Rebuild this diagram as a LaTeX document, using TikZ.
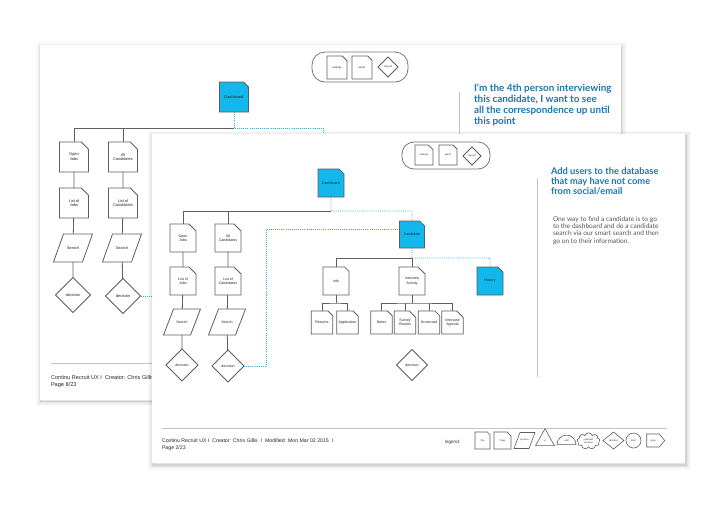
\documentclass[tikz,border=0pt]{standalone}
\usepackage{fontspec}
\setmainfont{Liberation Sans}
\newfontfamily\headf{Lato}
\usetikzlibrary{shapes.geometric,shapes.misc,shapes.symbols}
\definecolor{edge}{RGB}{95,95,95}
\definecolor{nodeblue}{RGB}{18,183,236}
\definecolor{dotblue}{RGB}{45,175,230}
\definecolor{headblue}{RGB}{28,118,178}
\definecolor{bodygray}{RGB}{85,85,85}
\definecolor{rulegray}{RGB}{195,195,195}
\tikzset{
  every node/.style={inner sep=0pt, outer sep=0pt},
  lbl/.style={font=\fontsize{3.6}{4.3}\selectfont, align=center, text=black!85},
  lblA/.style={font=\fontsize{3.9}{4.7}\selectfont, align=center, text=black!85},
  doc/.style={chamfered rectangle, chamfered rectangle corners=north east, draw=edge, line width=0.8pt, fill=white},
  docA/.style={doc, lblA, minimum width=29pt, minimum height=30pt, chamfered rectangle xsep=4pt},
  docB/.style={doc, lbl, minimum width=26pt, minimum height=28pt, chamfered rectangle xsep=3.5pt},
  docC/.style={doc, lbl, minimum width=21.5pt, minimum height=23pt, chamfered rectangle xsep=3pt},
  blue/.style={fill=nodeblue},
  para/.style={rectangle},
  paraA/.style={para, lblA, minimum width=29pt, minimum height=28pt},
  paraB/.style={para, lbl, minimum width=27pt, minimum height=26pt},
  shapeline/.style={draw=edge, line width=0.8pt, line join=miter},
  dec/.style={diamond, aspect=1, draw=edge, line width=0.8pt, fill=white},
  decA/.style={dec, lblA, minimum width=35pt, minimum height=35pt},
  decB/.style={dec, lbl, minimum width=32pt, minimum height=32pt},
  toolbar/.style={rectangle, draw=edge!85, line width=0.8pt},
  tiny/.style={font=\fontsize{2.7}{3.2}\selectfont, align=center, text=black!85},
  tree/.style={draw=edge, line width=0.8pt},
  dots/.style={draw=dotblue, line width=0.9pt, dash pattern=on 0.9pt off 1.2pt},
  vrule/.style={draw=rulegray, line width=1pt},
  hrule/.style={draw=rulegray, line width=0.8pt},
  leg/.style={draw=edge, line width=0.6pt, fill=white, font=\fontsize{2.4}{2.9}\selectfont, align=center, text=black!85},
}
\newcommand\paral[3][0.8pt]{\draw[shapeline, line width=#1] ([xshift=#3]#2.north west) -- ([xshift=#3]#2.north east) -- ([xshift=-#3]#2.south east) -- ([xshift=-#3]#2.south west) -- cycle;}
\begin{document}
\begin{tikzpicture}[x=1pt,y=-1pt]
\useasboundingbox (0,0) rectangle (720,504);
\fill[white] (0,0) rectangle (720,504);

% ---------------- back page ----------------
\foreach \w/\o in {9/0.025,6/0.035,3.5/0.05,1.5/0.07}
  \draw[black,opacity=\o,line width=\w pt] (40.5,46.5) rectangle (621.5,401.5);
\fill[white] (40,45) rectangle (621,400);

\node[toolbar, minimum width=96pt, minimum height=30pt, rounded corners=13pt] (tbA) at (360,67) {};
\node[doc, tiny, minimum width=20pt, minimum height=23pt, chamfered rectangle xsep=3pt] (setA) at (337,67.5) {settings};
\node[doc, tiny, minimum width=20pt, minimum height=23pt, chamfered rectangle xsep=3pt] (alA) at (362,67.5) {alerts};
\node[dec, tiny, minimum width=20pt, minimum height=20pt] (loA) at (388,67) {log out};

\node[anchor=north west, align=left, text=headblue, font=\headf\bfseries\fontsize{9.9}{11}\selectfont] (hA) at (474,84)
 {I’m the 4th person interviewing\\this candidate, I want to see\\all the correspondence up until\\this point};
\coordinate (vA1) at (459,92);
\coordinate (vA2) at (459,134);
\draw[vrule] (vA1) -- (vA2);

\node[docA, blue] (dashA) at (234,97) {Dashboard};
\coordinate (jA) at (234,128);
\coordinate (tA) at (323,128);
\coordinate (tA2) at (323,134);
\node[docA] (ojA) at (74,157) {Open\\Jobs};
\node[docA] (acA) at (123,157) {All\\Candidates};
\node[docA] (ljA) at (74,203) {List of\\Jobs};
\node[docA] (lcA) at (123,203) {List of\\Candidates};
\node[paraA] (sA1) at (73,248) {Search};
\node[paraA] (sA2) at (122,248) {Search};
\paral{sA1}{5pt}
\paral{sA2}{5pt}
\node[decA] (dA1) at (73,295) {decision};
\node[decA] (dA2) at (123,296) {decision};
\coordinate (eA) at (154,296);

\draw[tree] (ojA.north) |- (jA);
\draw[tree] (acA.north) -- (acA.north |- jA);
\draw[tree] (ojA) -- (ljA) -- (sA1) -- (dA1);
\draw[tree] (acA) -- (lcA) -- (sA2) -- (dA2);
\draw[dots] (dashA) -- (jA) -- (tA) -- (tA2);
\draw[dots] (dA2) -- (eA);

\coordinate (fA1) at (51,363);
\coordinate (fA2) at (621,363);
\draw[hrule] (fA1) -- (fA2);
\node[anchor=north west, align=left, font=\fontsize{5.6}{7}\selectfont, text=black!85] (ftA) at (51,375)
 {Continu Recruit UX I\ \ Creator: Chris Gillis\ \ I\ \ Modified: Mon Mar 02 2015\ \ I\\Page 8/23};

% ---------------- front page ----------------
\foreach \w/\o in {10/0.025,7/0.035,4/0.05,2/0.07}
  \draw[black,opacity=\o,line width=\w pt] (152.5,135.5) rectangle (686,464.5);
\fill[white] (152,134) rectangle (685,463);

\node[toolbar, minimum width=88pt, minimum height=27pt, rounded corners=12pt] (tbB) at (446,155.5) {};
\node[doc, tiny, minimum width=18pt, minimum height=20pt, chamfered rectangle xsep=3pt, font=\fontsize{2.5}{3}\selectfont] (setB) at (424,155) {settings};
\node[doc, tiny, minimum width=18pt, minimum height=20pt, chamfered rectangle xsep=3pt, font=\fontsize{2.5}{3}\selectfont] (alB) at (448,155) {alerts};
\node[dec, tiny, minimum width=18pt, minimum height=18pt, font=\fontsize{2.5}{3}\selectfont] (loB) at (472,156) {log out};

\coordinate (vB1) at (537,178);
\coordinate (vB2) at (537,377);
\draw[vrule] (vB1) -- (vB2);
\node[anchor=north west, align=left, text=headblue, font=\headf\bfseries\fontsize{9.3}{10}\selectfont] (hB) at (551,168)
 {Add users to the database\\that may have not come\\from social/email};
\node[anchor=north west, align=left, text=bodygray, font=\headf\fontsize{6.6}{7.3}\selectfont] (bB) at (553,216.5)
 {One way to find a candidate is to go\\to the dashboard and do a candidate\\search via our smart search and then\\go on to their information.};

\node[docB, blue] (dashB) at (331,183) {Dashboard};
\coordinate (jB) at (331,211);
\node[docB] (ojB) at (183,238) {Open\\Jobs};
\node[docB] (acB) at (228,238) {All\\Candidates};
\node[docB] (ljB) at (183,281) {List of\\Jobs};
\node[docB] (lcB) at (228,281) {List of\\Candidates};
\node[paraB] (sB1) at (182,322) {Search};
\node[paraB] (sB2) at (227,322) {Search};
\paral{sB1}{5pt}
\paral{sB2}{5pt}
\node[decB] (dB1) at (182,365) {decision};
\node[decB] (dB2) at (228,366) {decision};

\node[docB, blue, minimum width=25pt, minimum height=27pt] (candB) at (412,234.5) {Candidate};
\coordinate (kB1) at (266,366);
\coordinate (kB2) at (266,229);
\coordinate (kB3) at (397,229);
\coordinate (cB1) at (412,211);

\draw[tree] (ojB.north) |- (jB);
\draw[tree] (acB.north) -- (acB.north |- jB);
\draw[tree] (ojB) -- (ljB) -- (sB1) -- (dB1);
\draw[tree] (acB) -- (lcB) -- (sB2) -- (dB2);
\draw[dots] (dashB) -- (jB) -- (cB1) -- (candB);
\draw[dots] (dB2) -- (kB1) -- (kB2) -- (kB3);

\node[docB] (infoB) at (336,281) {Info};
\node[docB] (iaB) at (412,281) {Interview\\Activity};
\node[docB, blue] (histB) at (490,281) {History};
\coordinate (jC) at (412,258);
\coordinate (hC) at (490,258);
\draw[tree] (infoB.north) |- (jC) -- (iaB);
\draw[dots] (candB) -- (jC) -- (hC) -- (histB);

\node[docC] (resB) at (322,322.5) {Resume};
\node[docC] (appB) at (347.5,322.5) {Application};
\coordinate (jD) at (336,303);
\draw[tree] (infoB) -- (jD);
\draw[tree] (resB.north) |- (jD) -| (appB.north);

\node[docC] (notB) at (381.5,322.5) {Notes};
\node[docC] (surB) at (405,322.5) {Survey\\Results};
\node[docC] (scoB) at (429,322.5) {Scorecard};
\node[docC] (agB) at (452.5,322.5) {Interview\\Agenda};
\coordinate (jE) at (412,303);
\draw[tree] (iaB) -- (jE);
\draw[tree] (notB.north) |- (jE) -| (agB.north);
\draw[tree] (surB.north) -- (surB.north |- jE);
\draw[tree] (scoB.north) -- (scoB.north |- jE);

\node[decB, minimum width=31pt, minimum height=31pt] (dC) at (412,365) {decision};

\coordinate (fB1) at (162,428.5);
\coordinate (fB2) at (667,428.5);
\draw[hrule] (fB1) -- (fB2);
\node[anchor=north west, align=left, font=\fontsize{5.2}{6.6}\selectfont, text=black!85] (ftB) at (162,439)
 {Continu Recruit UX I\ \ Creator: Chris Gillis\ \ I\ \ Modified: Mon Mar 02 2015\ \ I\\Page 2/23};

% legend
\node[anchor=base west, font=\fontsize{4.6}{5}\selectfont, text=black!80] (legT) at (445,443) {legend:};
\node[leg, chamfered rectangle, chamfered rectangle corners=north east, chamfered rectangle xsep=2.5pt, minimum width=15pt, minimum height=17pt] (lFile) at (482.5,440.5) {File};
\node[leg, chamfered rectangle, chamfered rectangle corners=north east, chamfered rectangle xsep=3.5pt, minimum width=17pt, minimum height=17pt] (lPage) at (502.5,440.5) {Page};
\node[para, font=\fontsize{2.4}{2.9}\selectfont, text=black!85, minimum width=15pt, minimum height=16pt] (lProc) at (524.5,440.5) {process};
\paral[0.6pt]{lProc}{3pt}
\node[leg, isosceles triangle, shape border rotate=90, isosceles triangle stretches=true, minimum width=19pt, minimum height=17pt, text depth=-3pt] (lOr) at (545,440.5) {or};
\node[leg, semicircle, minimum width=19pt] (lAnd) at (566.5,441) {and};
\node[leg, cloud, cloud puffs=9, minimum width=23pt, minimum height=16pt] (lCloud) at (588.5,441) {unknown\\process};
\node[leg, diamond, aspect=1.2, minimum width=21pt, minimum height=17pt] (lDec) at (613.5,440.5) {decision};
\node[leg, circle, minimum size=15pt] (lEnd) at (633.5,440.5) {End};
\node[leg, signal, signal to=east, signal pointer angle=100, minimum width=18pt, minimum height=13pt] (lJump) at (653,440.5) {jump};
\end{tikzpicture}
\end{document}
